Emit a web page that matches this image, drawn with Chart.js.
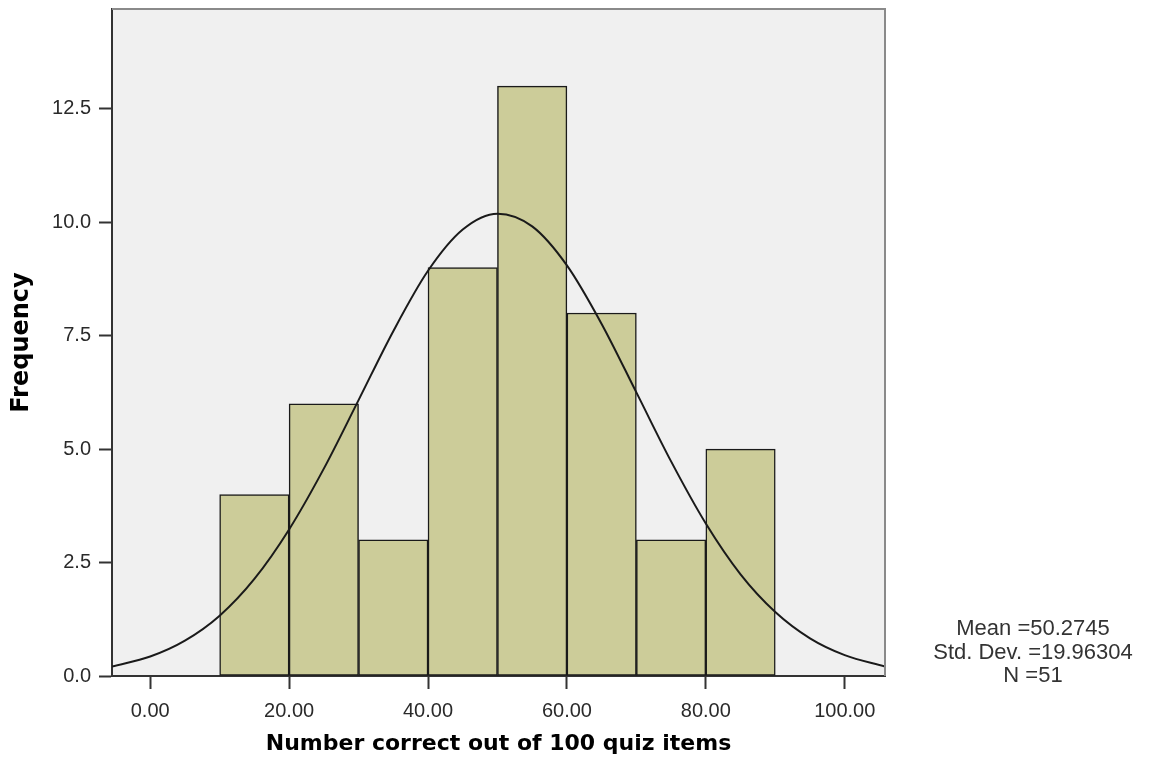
<!DOCTYPE html>
<html>
<head>
<meta charset="utf-8">
<script src="https://cdn.jsdelivr.net/npm/chart.js@4"></script>
<style>
  html, body { margin: 0; padding: 0; background: #fff; }
  #wrap { position: relative; width: 1151px; height: 761px; }
  #stats {
    position: absolute; left: 933px; top: 616px; width: 200px;
    text-align: center; font: 22px "Liberation Sans", Arial, sans-serif;
    line-height: 23.5px; color: #333;
  }
</style>
</head>
<body>
<div id="wrap">
  <canvas id="myChart" width="1151" height="761"></canvas>
  <div id="stats">Mean =50.2745<br>Std. Dev. =19.96304<br>N =51</div>
</div>
<script>
// histogram bins (centres) and counts
const binCenters = [15, 25, 35, 45, 55, 65, 75, 85];
const frequencies = [4, 6, 3, 9, 13, 8, 3, 5];

// normal curve
const curveX = [-5.5, 0, 5, 10, 15, 20, 25, 30, 35, 40, 45, 50, 55, 60, 65, 70, 75, 80, 85, 90, 95, 100, 105.8];
const curveY = [0.21, 0.43, 0.78, 1.33, 2.14, 3.23, 4.57, 6.08, 7.60, 8.93, 9.84, 10.19, 9.91, 9.05, 7.76, 6.25, 4.73, 3.36, 2.24, 1.41, 0.83, 0.46, 0.21];

const xTicks = [0, 20, 40, 60, 80, 100];
const yTicks = [0, 2.5, 5, 7.5, 10, 12.5];

const tickFont = { family: "'Liberation Sans', Arial, sans-serif", size: 20 };
const titleFont = { family: "'DejaVu Sans', Verdana, sans-serif", size: 22, weight: 'bold' };

const plotFrame = {
    id: 'plotFrame',
    beforeDraw(chart) {
        const a = chart.chartArea;
        const ctx = chart.ctx;
        ctx.save();
        ctx.fillStyle = '#f0f0f0';
        ctx.fillRect(a.left, a.top, a.right - a.left, a.bottom - a.top);
        ctx.restore();
    },
    afterDraw(chart) {
        const a = chart.chartArea;
        const ctx = chart.ctx;
        ctx.save();
        ctx.strokeStyle = '#8a8a8a';
        ctx.lineWidth = 2;
        ctx.beginPath();
        ctx.moveTo(a.left, a.top);
        ctx.lineTo(a.right, a.top);
        ctx.lineTo(a.right, a.bottom);
        ctx.stroke();
        ctx.restore();
    }
};

const ctx = document.getElementById('myChart');
new Chart(ctx, {
    data: {
        datasets: [
            {
                type: 'line',
                data: curveX.map((x, i) => ({ x: x, y: curveY[i] })),
                borderColor: '#1a1a1a',
                borderWidth: 2,
                pointRadius: 0,
                cubicInterpolationMode: 'monotone',
                order: 0
            },
            {
                type: 'bar',
                data: binCenters.map((x, i) => ({ x: x, y: frequencies[i] })),
                backgroundColor: '#cccc99',
                borderColor: '#1a1a1a',
                borderWidth: 1.5,
                borderSkipped: false,
                barPercentage: 1,
                categoryPercentage: 1,
                order: 1
            }
        ]
    },
    options: {
        responsive: false,
        animation: false,
        devicePixelRatio: 1,
        layout: { padding: { top: 9, right: 266, bottom: 0, left: 0 } },
        plugins: { legend: { display: false }, tooltip: { enabled: false } },
        scales: {
            x: {
                type: 'linear',
                min: -5.5,
                max: 105.8,
                offset: false,
                afterBuildTicks: (scale) => { scale.ticks = xTicks.map(v => ({ value: v })); },
                afterFit: (scale) => { scale.height = 85; scale.paddingLeft = 0; scale.paddingRight = 0; },
                grid: { offset: false, drawOnChartArea: false, drawTicks: true, tickLength: 13, tickColor: '#333', tickWidth: 2 },
                border: { display: true, color: '#333', width: 2 },
                ticks: {
                    font: tickFont, color: '#2a2a2a', padding: 10, maxRotation: 0,
                    callback: (v) => Number(v).toFixed(2)
                },
                title: {
                    display: true, text: 'Number correct out of 100 quiz items',
                    font: titleFont, color: '#000', padding: { top: 0, bottom: 4 }
                }
            },
            y: {
                min: 0,
                max: 14.7,
                afterBuildTicks: (scale) => { scale.ticks = yTicks.map(v => ({ value: v })); },
                afterFit: (scale) => { scale.width = 112; scale.paddingTop = 0; scale.paddingBottom = 0; },
                grid: { drawOnChartArea: false, drawTicks: true, tickLength: 13, tickColor: '#333', tickWidth: 2 },
                border: { display: true, color: '#333', width: 2 },
                ticks: {
                    font: tickFont, color: '#2a2a2a', padding: 8,
                    callback: (v) => Number(v).toFixed(1)
                },
                title: {
                    display: true, text: 'Frequency',
                    font: { family: "'DejaVu Sans', Verdana, sans-serif", size: 24, weight: 'bold' },
                    color: '#000', padding: { top: 7, bottom: 0 }
                }
            }
        }
    },
    plugins: [plotFrame]
});
</script>
</body>
</html>
